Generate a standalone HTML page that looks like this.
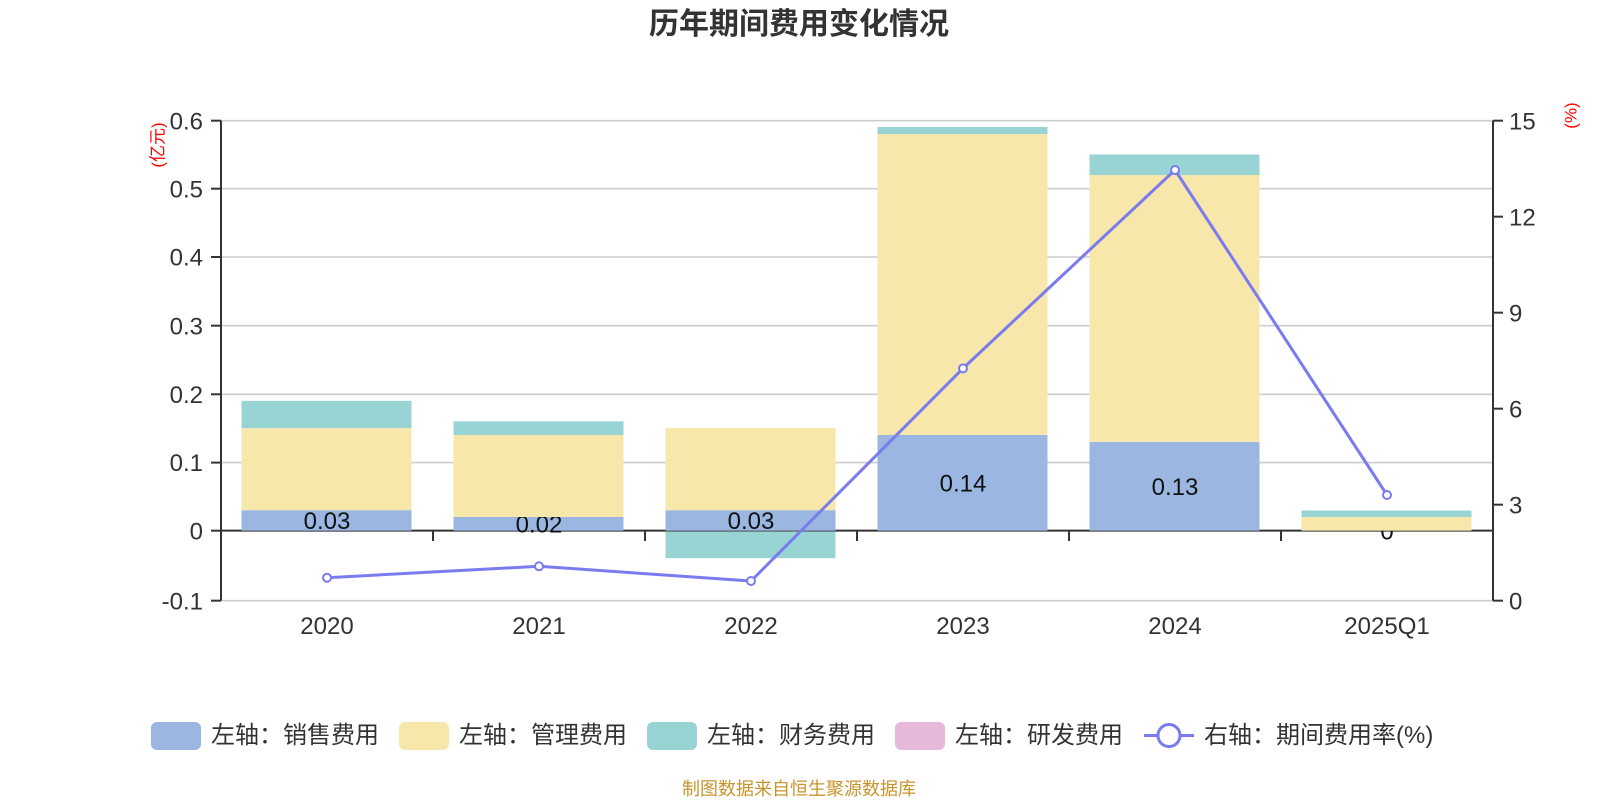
<!DOCTYPE html>
<html>
<head>
<meta charset="utf-8">
<style>
  html, body { margin: 0; padding: 0; background: #fff; }
  body { width: 1600px; height: 800px; overflow: hidden; }
  svg { display: block; }
  text { font-family: "Liberation Sans", "Noto Sans CJK SC", sans-serif; }
</style>
</head>
<body>
<svg width="1600" height="800" viewBox="0 0 1600 800" xmlns="http://www.w3.org/2000/svg">
  <rect x="0" y="0" width="1600" height="800" fill="#ffffff"/>

  <!-- Title -->
  <text x="799" y="34" text-anchor="middle" font-size="30" font-weight="bold" fill="#333333">历年期间费用变化情况</text>

  <!-- Grid lines (left axis) -->
  <g stroke="#cccccc" stroke-width="1.6">
    <line x1="221" y1="120.67" x2="1493" y2="120.67"/>
    <line x1="221" y1="188.67" x2="1493" y2="188.67"/>
    <line x1="221" y1="257" x2="1493" y2="257"/>
    <line x1="221" y1="325.67" x2="1493" y2="325.67"/>
    <line x1="221" y1="394.3" x2="1493" y2="394.3"/>
    <line x1="221" y1="462.6" x2="1493" y2="462.6"/>
    <line x1="221" y1="600.67" x2="1493" y2="600.67"/>
  </g>

  <!-- Zero axis line -->
  <line x1="221" y1="530.67" x2="1493" y2="530.67" stroke="#333333" stroke-width="2"/>
  <!-- x-axis ticks -->
  <g stroke="#333333" stroke-width="2">
    <line x1="433" y1="530.67" x2="433" y2="541"/>
    <line x1="645" y1="530.67" x2="645" y2="541"/>
    <line x1="857" y1="530.67" x2="857" y2="541"/>
    <line x1="1069" y1="530.67" x2="1069" y2="541"/>
    <line x1="1281" y1="530.67" x2="1281" y2="541"/>
  </g>

  <!-- Blue bars (销售费用) -->
  <g fill="#9bb7e1">
    <rect x="241.5" y="510.17" width="170" height="20.5"/>
    <rect x="453.5" y="517" width="170" height="13.67"/>
    <rect x="665.5" y="510.17" width="170" height="20.5"/>
    <rect x="877.5" y="435" width="170" height="95.67"/>
    <rect x="1089.5" y="441.83" width="170" height="88.84"/>
  </g>

  <!-- Blue bar labels -->
  <g font-size="24" fill="#111111" text-anchor="middle">
    <text x="327" y="529">0.03</text>
    <text x="539" y="532.4">0.02</text>
    <text x="751" y="529">0.03</text>
    <text x="963" y="491.4">0.14</text>
    <text x="1175" y="494.8">0.13</text>
    <text x="1387" y="539.3">0</text>
  </g>

  <!-- Yellow bars (管理费用) -->
  <g fill="#f8e7aa">
    <rect x="241.5" y="428.17" width="170" height="82"/>
    <rect x="453.5" y="435" width="170" height="82"/>
    <rect x="665.5" y="428.17" width="170" height="82"/>
    <rect x="877.5" y="134" width="170" height="301"/>
    <rect x="1089.5" y="175" width="170" height="266.83"/>
    <rect x="1301.5" y="517" width="170" height="13.67"/>
  </g>

  <!-- Teal bars (财务费用) -->
  <g fill="#98d4d4">
    <rect x="241.5" y="400.83" width="170" height="27.34"/>
    <rect x="453.5" y="421.33" width="170" height="13.67"/>
    <rect x="665.5" y="531.67" width="170" height="26.5"/>
    <rect x="877.5" y="127" width="170" height="7"/>
    <rect x="1089.5" y="154.5" width="170" height="20.5"/>
    <rect x="1301.5" y="510.5" width="170" height="6.5"/>
  </g>

  <!-- Left y axis -->
  <line x1="221" y1="120.67" x2="221" y2="600.67" stroke="#333333" stroke-width="2"/>
  <g stroke="#333333" stroke-width="2">
    <line x1="211" y1="120.67" x2="221" y2="120.67"/>
    <line x1="211" y1="188.67" x2="221" y2="188.67"/>
    <line x1="211" y1="257" x2="221" y2="257"/>
    <line x1="211" y1="325.67" x2="221" y2="325.67"/>
    <line x1="211" y1="394.3" x2="221" y2="394.3"/>
    <line x1="211" y1="462.6" x2="221" y2="462.6"/>
    <line x1="211" y1="530.67" x2="221" y2="530.67"/>
    <line x1="211" y1="600.67" x2="221" y2="600.67"/>
  </g>
  <g font-size="24" fill="#333333" text-anchor="end">
    <text x="203" y="129.3">0.6</text>
    <text x="203" y="197.3">0.5</text>
    <text x="203" y="265.6">0.4</text>
    <text x="203" y="334.3">0.3</text>
    <text x="203" y="402.9">0.2</text>
    <text x="203" y="471.2">0.1</text>
    <text x="203" y="539.3">0</text>
    <text x="203" y="609.3">-0.1</text>
  </g>
  <text transform="translate(158,145) rotate(-90)" font-size="17" fill="#ff0000" text-anchor="middle" dominant-baseline="central">(亿元)</text>

  <!-- Right y axis -->
  <line x1="1493" y1="120.67" x2="1493" y2="600.67" stroke="#333333" stroke-width="2"/>
  <g stroke="#333333" stroke-width="2">
    <line x1="1493" y1="120.67" x2="1503" y2="120.67"/>
    <line x1="1493" y1="216.67" x2="1503" y2="216.67"/>
    <line x1="1493" y1="312.67" x2="1503" y2="312.67"/>
    <line x1="1493" y1="408.67" x2="1503" y2="408.67"/>
    <line x1="1493" y1="504.67" x2="1503" y2="504.67"/>
    <line x1="1493" y1="600.67" x2="1503" y2="600.67"/>
  </g>
  <g font-size="24" fill="#333333" text-anchor="start">
    <text x="1509" y="129.3">15</text>
    <text x="1509" y="225.3">12</text>
    <text x="1509" y="321.3">9</text>
    <text x="1509" y="417.3">6</text>
    <text x="1509" y="513.3">3</text>
    <text x="1509" y="609.3">0</text>
  </g>
  <text transform="translate(1571,115.5) rotate(-90)" font-size="17" fill="#ff0000" text-anchor="middle" dominant-baseline="central">(%)</text>

  <!-- Category labels -->
  <g font-size="24" fill="#333333" text-anchor="middle">
    <text x="327" y="634">2020</text>
    <text x="539" y="634">2021</text>
    <text x="751" y="634">2022</text>
    <text x="963" y="634">2023</text>
    <text x="1175" y="634">2024</text>
    <text x="1387" y="634">2025Q1</text>
  </g>

  <!-- Line series (期间费用率) -->
  <polyline points="327,577.7 539,566.3 751,581 963,368.4 1175,170 1387,495" fill="none" stroke="#7b7bf0" stroke-width="3" stroke-linejoin="round"/>
  <g fill="#ffffff" stroke="#7b7bf0" stroke-width="2">
    <circle cx="327" cy="577.7" r="4"/>
    <circle cx="539" cy="566.3" r="4"/>
    <circle cx="751" cy="581" r="4"/>
    <circle cx="963" cy="368.4" r="4"/>
    <circle cx="1175" cy="170" r="4"/>
    <circle cx="1387" cy="495" r="4"/>
  </g>

  <!-- Legend -->
  <g font-size="24" fill="#333333">
    <rect x="151" y="722" width="50" height="28" rx="6" ry="6" fill="#9bb7e1"/>
    <text x="211" y="743">左轴：销售费用</text>
    <rect x="399" y="722" width="50" height="28" rx="6" ry="6" fill="#f8e7aa"/>
    <text x="459" y="743">左轴：管理费用</text>
    <rect x="647" y="722" width="50" height="28" rx="6" ry="6" fill="#98d4d4"/>
    <text x="707" y="743">左轴：财务费用</text>
    <rect x="895" y="722" width="50" height="28" rx="6" ry="6" fill="#e6b9d9"/>
    <text x="955" y="743">左轴：研发费用</text>
    <line x1="1144" y1="735.5" x2="1194" y2="735.5" stroke="#7b7bf0" stroke-width="3"/>
    <circle cx="1169" cy="735.5" r="11" fill="#ffffff" stroke="#7b7bf0" stroke-width="3"/>
    <text x="1204" y="743">右轴：期间费用率(%)</text>
  </g>

  <!-- Footer -->
  <text x="799" y="795" text-anchor="middle" font-size="18" fill="#c8942c">制图数据来自恒生聚源数据库</text>
</svg>
</body>
</html>
